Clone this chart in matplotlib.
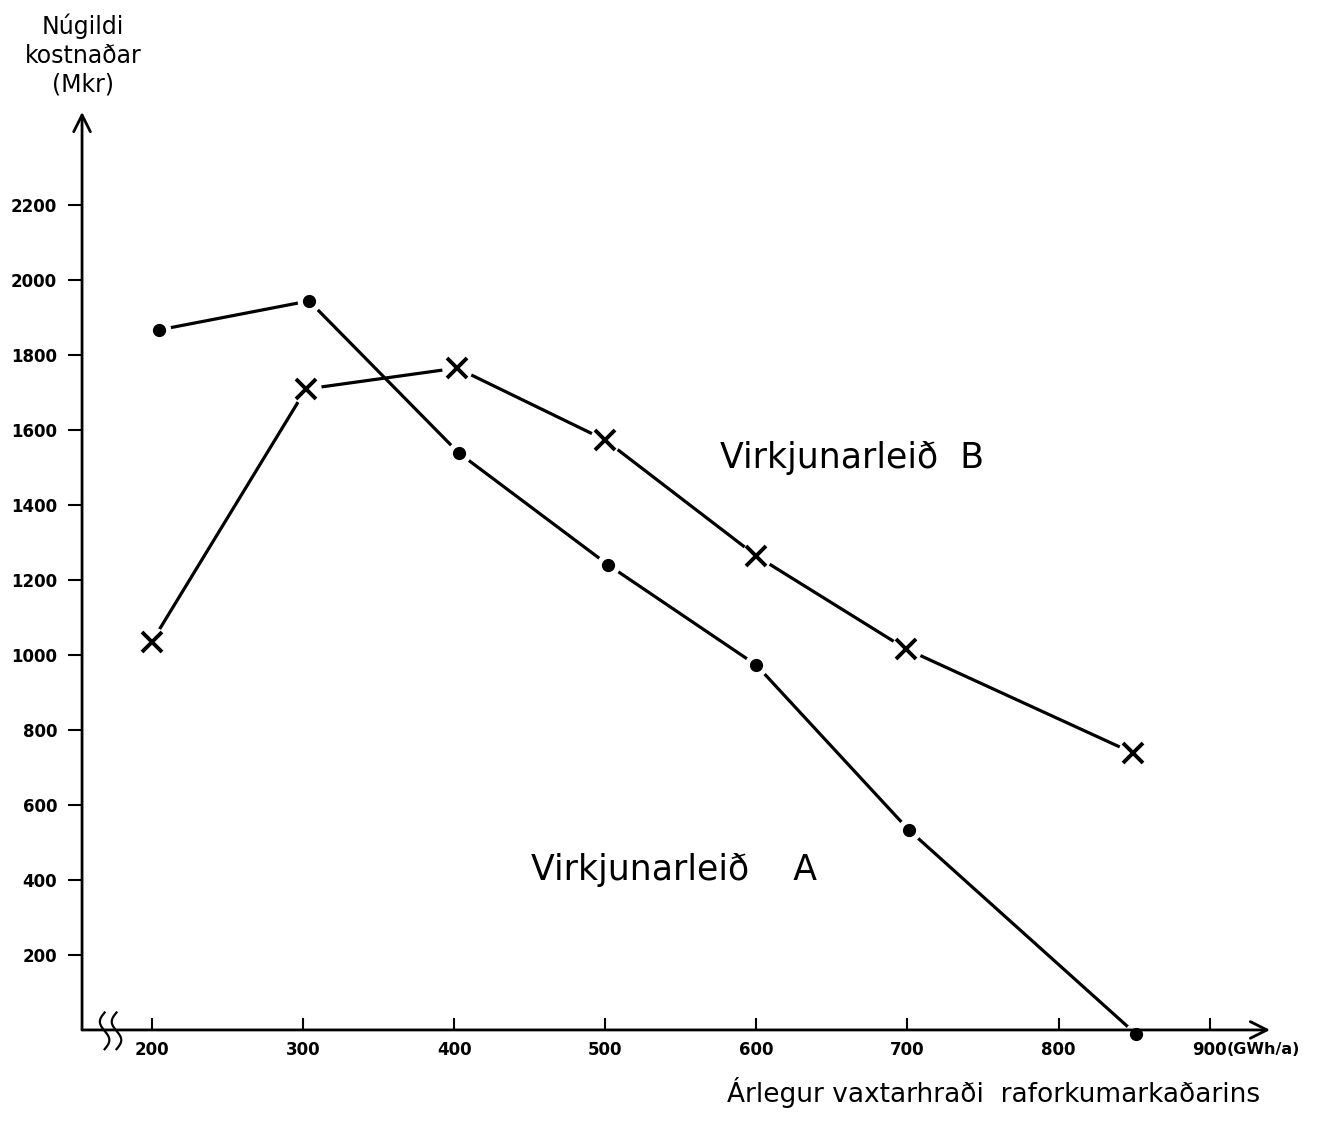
import numpy as np
import matplotlib.pyplot as plt

# data
x_a = [205, 304, 403, 502, 600, 701, 851]
y_a = [1867, 1944, 1539, 1240, 973, 533, -10]
x_b = [200, 302, 402, 500, 600, 699, 849]
y_b = [1035, 1709, 1765, 1573, 1264, 1016, 739]

x_ticks = [200, 300, 400, 500, 600, 700, 800, 900]
y_ticks = [200, 400, 600, 800, 1000, 1200, 1400, 1600, 1800, 2000, 2200]

plt.rcParams['font.family'] = ['DejaVu Sans']

fig = plt.figure(figsize=(13.19, 11.26), dpi=100)
ax = fig.add_axes([0.0622, 0.0853, 0.9007, 0.8153])
ax.set_xlim(153.8, 940)
ax.set_ylim(0, 2448)

##########################################################
# lines, with a white halo under each marker for the hand-drawn gaps
ax.plot(x_a, y_a, color='black', lw=2.3, solid_capstyle='round', zorder=2)
ax.plot(x_b, y_b, color='black', lw=2.3, solid_capstyle='round', zorder=2)
ax.plot(x_a, y_a, 'o', ms=17, color='white', mec='none', zorder=3, clip_on=False)
ax.plot(x_b, y_b, 'o', ms=22, color='white', mec='none', zorder=3, clip_on=False)
ax.plot(x_a, y_a, 'o', ms=8.5, color='black', zorder=4, clip_on=False)
ax.plot(x_b, y_b, 'x', ms=14, mew=2.8, color='black', zorder=4, clip_on=False)

##########################################################
# axes with arrow heads
for s in ax.spines.values():
    s.set_visible(False)
ax.annotate('', xy=(0, 1.0), xytext=(0, 0), xycoords='axes fraction',
            arrowprops=dict(arrowstyle='->', lw=2, color='black',
                            mutation_scale=30, shrinkA=0, shrinkB=0))
ax.annotate('', xy=(1.0, 0), xytext=(0, 0), xycoords='axes fraction',
            arrowprops=dict(arrowstyle='->', lw=2, color='black',
                            mutation_scale=30, shrinkA=0, shrinkB=0))

# axis break marks
t = np.linspace(-1, 1, 50)
for off in [0.019, 0.029]:
    bx = off - 0.004 * np.sin(t * np.pi)
    by = -0.001 + 0.02 * t
    ax.plot(bx, by, color='black', lw=1.6, transform=ax.transAxes, clip_on=False)

ax.set_yticks(y_ticks)
ax.set_yticklabels([str(v) for v in y_ticks], fontsize=12, fontweight='bold')
ax.tick_params(axis='y', direction='out', length=10, width=1.5, pad=8)
ax.set_xticks(x_ticks)
ax.set_xticklabels([str(v) for v in x_ticks], fontsize=12, fontweight='bold')
ax.tick_params(axis='x', direction='in', length=9, width=1.5, pad=8)

ax.text(911, -53, '(GWh/a)', fontsize=11.5, fontweight='bold', va='center', ha='left')

##########################################################
# labels
fig.text(0.063, 0.988, 'Núgildi\nkostnaðar\n(Mkr)', fontsize=17, ha='center',
         va='top', linespacing=1.25)
ax.text(576, 1525, 'Virkjunarleið  B', fontsize=25, va='center', ha='left')
ax.text(451, 427, 'Virkjunarleið    A', fontsize=25, va='center', ha='left')
fig.text(0.551, 0.016, 'Árlegur vaxtarhraði  raforkumarkaðarins', fontsize=19,
         ha='left', va='bottom')

plt.savefig('out.png', dpi=100)
